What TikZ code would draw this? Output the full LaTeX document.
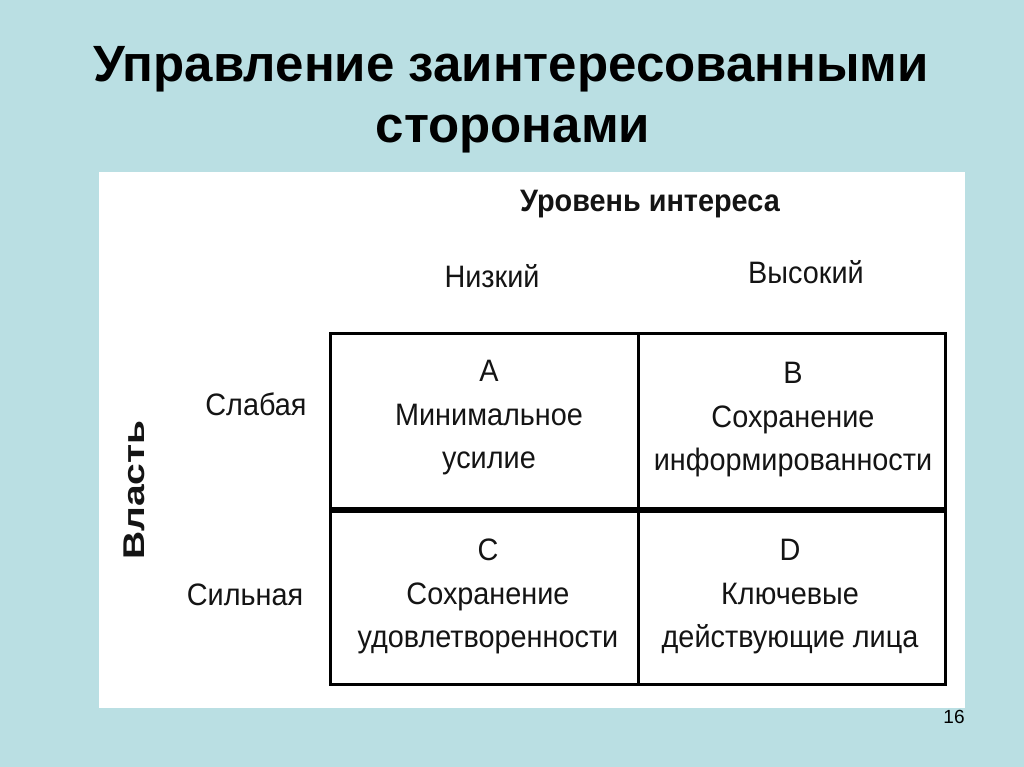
\documentclass[tikz,border=0pt]{standalone}
\usepackage{fontspec}
\setmainfont{Liberation Sans}
\newfontfamily\narrowsans[FakeStretch=0.93]{Liberation Sans}
\definecolor{slidebg}{RGB}{186,223,227}
\definecolor{inkblack}{RGB}{20,20,20}
\begin{document}
\begin{tikzpicture}[x=1pt,y=-1pt,
  titletext/.style={font=\fontsize{51}{58}\selectfont\bfseries, anchor=base, inner sep=0pt, text=black},
  headtext/.style={font=\narrowsans\fontsize{31}{36}\selectfont, anchor=base, inner sep=0pt, text=inkblack},
  boldhead/.style={font=\narrowsans\fontsize{31}{36}\selectfont\bfseries, anchor=base, inner sep=0pt, text=inkblack},
  celltext/.style={font=\narrowsans\fontsize{31}{43.5}\selectfont, align=center, anchor=north, inner sep=0pt, text=inkblack},
  gridline/.style={draw=black, line width=3pt},
  midline/.style={draw=black, line width=6pt}]
\fill[slidebg] (0,0) rectangle (1024,767);
\useasboundingbox (0,0) rectangle (1024,767);
\fill[white] (99,172) rectangle (965,708);
% title
\node[titletext] (t1) at (511,82) {Управление заинтересованными};
\node[titletext] (t2) at (513,143) {сторонами};
% headers
\node[boldhead] (interest) at (650,212) {Уровень интереса};
\node[headtext] (low) at (492,287) {Низкий};
\node[headtext] (high) at (806,283) {Высокий};
\node[headtext] (weak) at (256,415) {Слабая};
\node[headtext] (strong) at (245,605) {Сильная};
\node[font=\fontsize{30}{34}\selectfont\bfseries, text=inkblack, inner sep=0pt, rotate=90, anchor=center] (power) at (134,490) {\scalebox{1.3}[1]{Власть}};
% grid
\draw[gridline] (330,333) rectangle (945,684);
\draw[gridline] (638,333) -- (638,684);
\draw[midline] (330,510) -- (945,510);
% cells
\node[celltext] (cellA) at (489,360) {А\\Минимальное\\усилие};
\node[celltext] (cellB) at (793,362) {В\\Сохранение\\информированности};
\node[celltext] (cellC) at (488,539) {С\\Сохранение\\удовлетворенности};
\node[celltext] (cellD) at (790,539) {D\\Ключевые\\действующие лица};
% page number
\node[font=\fontsize{19}{22}\selectfont, anchor=base, inner sep=0pt] (pagenum) at (954,723) {16};
\end{tikzpicture}
\end{document}
